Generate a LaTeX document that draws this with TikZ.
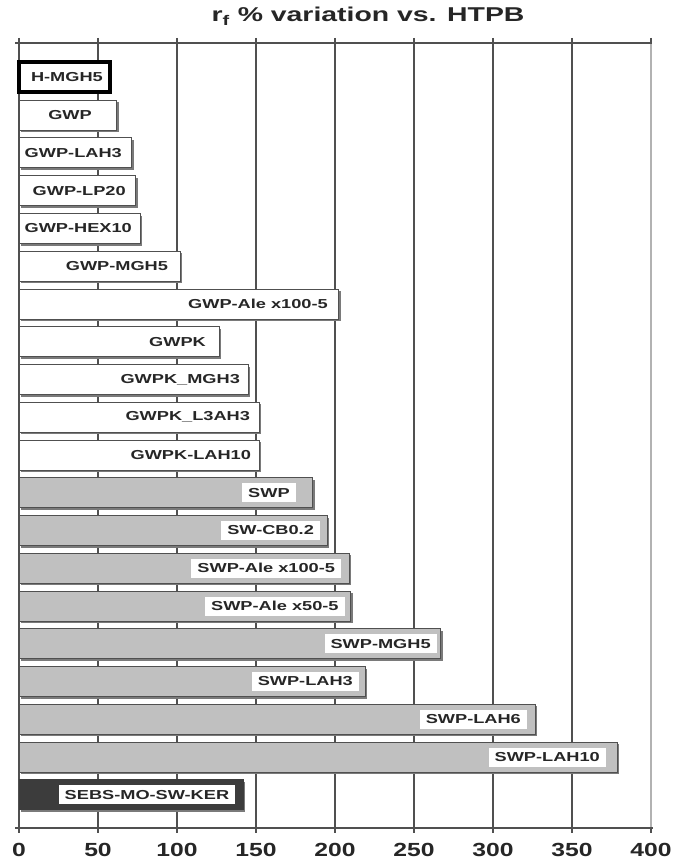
\documentclass[tikz,border=0pt]{standalone}
\usepackage{fontspec}
\setmainfont{Liberation Sans}
\usepackage{xcolor}
\usepackage{graphicx}
\usepackage{tikz}
\usetikzlibrary{positioning}
\definecolor{gridgray}{HTML}{505050}
\definecolor{barfill}{HTML}{C0C0C0}
\definecolor{darkbar}{HTML}{3C3C3C}
\definecolor{shadowgray}{HTML}{7A7A7A}
\newcommand{\wide}[2][1.4]{\scalebox{#1}[1]{#2}}

\begin{document}
\begin{tikzpicture}[x=1pt, y=-1pt,
    gridline/.style={gridgray, line width=1.1pt},
    barwhite/.style={fill=white, draw=gridgray, line width=1pt},
    bargray/.style={fill=barfill, draw=gridgray, line width=1pt},
    bardark/.style={fill=darkbar, draw=darkbar, line width=1pt},
    barbold/.style={fill=white, draw=black, line width=4pt},
    barlabel/.style={anchor=east, inner xsep=6pt, inner ysep=0pt, minimum height=19pt,
      text=black!85, font=\bfseries\fontsize{13}{13}\selectfont},
    ticklabel/.style={text=black!85, font=\bfseries\fontsize{19}{19}\selectfont}]
                \useasboundingbox (0,0) rectangle (673,861);
                \def\xo{19}
                \def\xs{1.58}
                \node[anchor=base, text=black!85, font=\bfseries\fontsize{20}{20}\selectfont] (title) at (368,22)
                    {\wide[1.42]{r\textsubscript{f} \% variation vs. HTPB}};
                \foreach \t in {0,50,...,350}
                    \draw[gridline] ({\xo+\xs*\t},38) -- ({\xo+\xs*\t},833);
                \draw[black!30, line width=1.5pt] ({\xo+\xs*400},43) -- ({\xo+\xs*400},828);
                \draw[gridline] ({\xo+\xs*400},38) -- ({\xo+\xs*400},43) ({\xo+\xs*400},828) -- ({\xo+\xs*400},833);
                \draw[gridline, line width=1.4pt] (15,43) -- ({\xo+\xs*400+1},43);
                \draw[gridline, line width=1.4pt] (15,828) -- ({\xo+\xs*400+2},828);
                \foreach \t in {0,50,...,400}
                    \node[ticklabel] (t\t) at ({\xo+\xs*\t},850) {\wide[1.3]{\t}};
                \foreach \v/\name/\pad/\kind/\lf [count=\i from 0] in {
                    57.6/H-MGH5/7/barbold/none, 62/GWP/25/barwhite/none,
                    71.5/GWP-LAH3/10/barwhite/none, 74/GWP-LP20/10/barwhite/none,
                    76.6/GWP-HEX10/8/barwhite/none, 102/GWP-MGH5/12/barwhite/none,
                    202.5/GWP-Ale x100-5/11/barwhite/none, 126.6/GWPK/13/barwhite/none,
                    145/GWPK\_MGH3/8/barwhite/none, 152/GWPK\_L3AH3/9/barwhite/none,
                    152/GWPK-LAH10/8/barwhite/none, 186/SWP/23/bargray/white,
                    195/SW-CB0.2/13/bargray/white, 209/SWP-Ale x100-5/14/bargray/white,
                    210/SWP-Ale x50-5/12/bargray/white, 267/SWP-MGH5/10/bargray/white,
                    219/SWP-LAH3/12/bargray/white, 326.6/SWP-LAH6/14/bargray/white,
                    378.5/SWP-LAH10/17/bargray/white, 142/SEBS-MO-SW-KER/14/bardark/white}{
                    \pgfmathsetmacro\yc{77.5+37.75*\i}
                    \fill[shadowgray] ({\xo+2},{\yc-13}) rectangle ({\xo+\xs*\v+2},{\yc+17});
                    \draw[\kind] (\xo,{\yc-15}) rectangle ({\xo+\xs*\v},{\yc+15});
                    \node[barlabel, fill=\lf] (l\i) at ({\xo+\xs*\v-\pad+6},\yc) {\wide{\name}};
                }
            \end{tikzpicture}
\end{document}
